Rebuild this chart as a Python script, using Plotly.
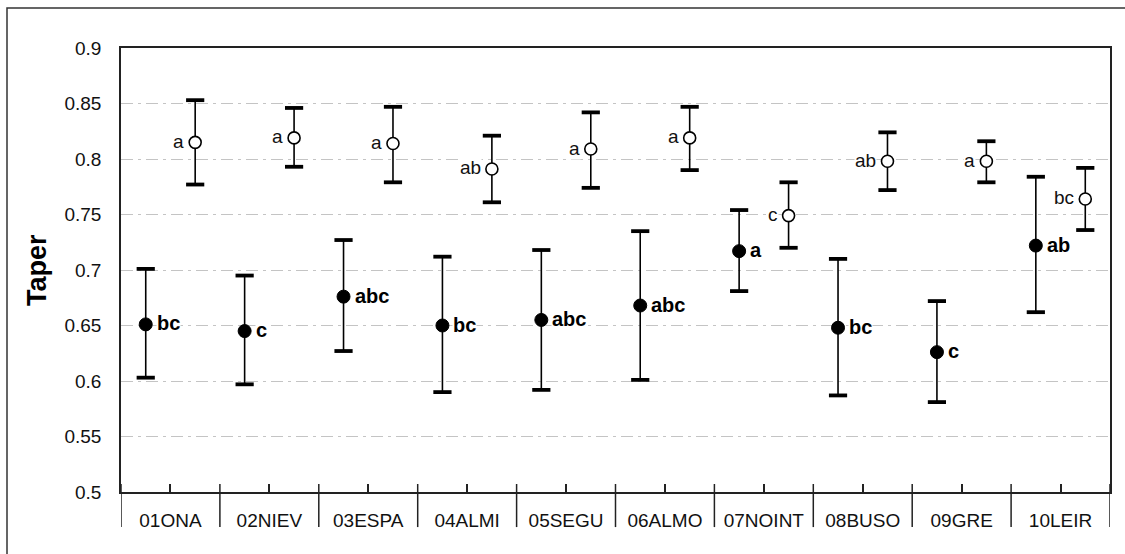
import plotly.graph_objects as go

categories = ["01ONA", "02NIEV", "03ESPA", "04ALMI", "05SEGU",
              "06ALMO", "07NOINT", "08BUSO", "09GRE", "10LEIR"]

# filled series (black dots)
filled_mean = [0.651, 0.645, 0.676, 0.650, 0.655, 0.668, 0.717, 0.648, 0.626, 0.722]
filled_upper = [0.701, 0.695, 0.727, 0.712, 0.718, 0.735, 0.754, 0.710, 0.672, 0.784]
filled_lower = [0.603, 0.597, 0.627, 0.590, 0.592, 0.601, 0.681, 0.587, 0.581, 0.662]
filled_letters = ["bc", "c", "abc", "bc", "abc", "abc", "a", "bc", "c", "ab"]

# hollow series (open dots)
hollow_mean = [0.815, 0.819, 0.814, 0.791, 0.809, 0.819, 0.749, 0.798, 0.798, 0.764]
hollow_upper = [0.853, 0.846, 0.847, 0.821, 0.842, 0.847, 0.779, 0.824, 0.816, 0.792]
hollow_lower = [0.777, 0.793, 0.779, 0.761, 0.774, 0.790, 0.720, 0.772, 0.779, 0.736]
hollow_letters = ["a", "a", "a", "ab", "a", "a", "c", "ab", "a", "bc"]

y_ticks = [0.5, 0.55, 0.6, 0.65, 0.7, 0.75, 0.8, 0.85, 0.9]
y_tick_text = ["0.5", "0.55", "0.6", "0.65", "0.7", "0.75", "0.8", "0.85", "0.9"]

n = len(categories)
x_f = [i - 0.25 for i in range(n)]
x_h = [i + 0.25 for i in range(n)]

FONT = "Liberation Sans, Arial"

fig = go.Figure()

def add_series(xs, mean, upper, lower, filled):
    plus = [u - m for u, m in zip(upper, mean)]
    minus = [m - l for m, l in zip(mean, lower)]
    # stems
    fig.add_trace(go.Scatter(
        x=xs, y=mean, mode="markers", marker=dict(size=1, color="rgba(0,0,0,0)"),
        error_y=dict(type="data", symmetric=False, array=plus, arrayminus=minus,
                     color="black", thickness=1.6, width=0),
        showlegend=False, hoverinfo="skip"))
    # caps
    fig.add_trace(go.Scatter(
        x=xs + xs, y=upper + lower, mode="markers",
        marker=dict(symbol="line-ew", size=13, line=dict(width=3.8, color="black")),
        showlegend=False, hoverinfo="skip"))
    # points
    if filled:
        mk = dict(size=13, color="black", line=dict(width=1, color="black"))
    else:
        mk = dict(size=12, color="white", line=dict(width=1.6, color="black"))
    fig.add_trace(go.Scatter(x=xs, y=mean, mode="markers", marker=mk,
                             showlegend=False))

add_series(x_f, filled_mean, filled_upper, filled_lower, True)
add_series(x_h, hollow_mean, hollow_upper, hollow_lower, False)

annotations = []
for xv, yv, t in zip(x_f, filled_mean, filled_letters):
    annotations.append(dict(x=xv, y=yv, text="<b>" + t + "</b>", showarrow=False,
                            xanchor="left", yanchor="middle", xshift=10, yshift=1,
                            bgcolor="white", borderpad=0,
                            font=dict(family=FONT, size=20, color="black")))
for xv, yv, t in zip(x_h, hollow_mean, hollow_letters):
    annotations.append(dict(x=xv, y=yv, text=t, showarrow=False,
                            xanchor="right", yanchor="middle", xshift=-10, yshift=1,
                            bgcolor="white", borderpad=0,
                            font=dict(family=FONT, size=19, color="#111")))

annotations.append(dict(x=(37 - 121) / 989, y=0.5, xref="paper", yref="paper",
                        text="<b>Taper</b>", textangle=-90, showarrow=False,
                        xanchor="center", yanchor="middle",
                        font=dict(family=FONT, size=27, color="black")))

shapes = []
# category dividers below axis
for b in range(n + 1):
    shapes.append(dict(type="line", xref="x", yref="paper", x0=b - 0.5, x1=b - 0.5,
                       y0=-0.079, y1=0.018, line=dict(color="#222", width=1.5)))
# outer frame
shapes.append(dict(type="rect", xref="paper", yref="paper",
                   x0=(7 - 121) / 989, x1=1.03, y0=-0.3, y1=(492 - 8) / 444,
                   line=dict(color="#333", width=1.5), layer="below"))

fig.update_layout(
    width=1125, height=554,
    margin=dict(l=121, r=15, t=48, b=62),
    paper_bgcolor="white", plot_bgcolor="white",
    font=dict(family=FONT, size=16, color="#111"),
    annotations=annotations, shapes=shapes,
    xaxis=dict(range=[-0.5, n - 0.5], tickvals=list(range(n)), ticktext=categories,
               ticks="inside", ticklen=8, tickwidth=1.5, tickcolor="#222",
               showline=True, linecolor="#222", linewidth=1.5, mirror=True,
               showgrid=False, zeroline=False, ticklabelstandoff=10,
               tickfont=dict(size=19, family=FONT, color="#111")),
    yaxis=dict(range=[0.5, 0.9], tickvals=y_ticks, ticktext=y_tick_text,
               ticks="", showline=True, linecolor="#222", linewidth=1.5, mirror=True,
               showgrid=True, gridcolor="#c4c4c4", gridwidth=1,
               griddash="12px,5px,3px,5px", zeroline=False, ticklabelstandoff=14,
               tickfont=dict(size=19, family=FONT, color="#111")),
)

fig.write_html("out.html")
